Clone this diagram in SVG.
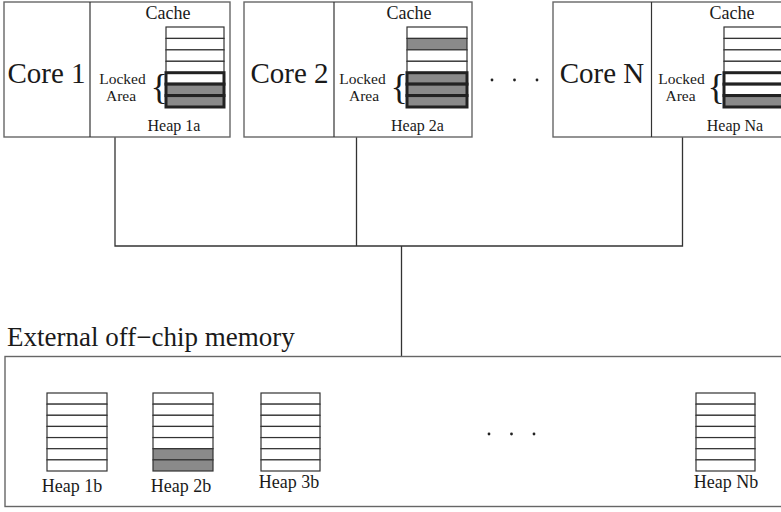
<svg xmlns="http://www.w3.org/2000/svg" width="781" height="512" viewBox="0 0 781 512">
<style>
  text { font-family: "Liberation Serif", "Times New Roman", serif; fill: #1a1a1a; }
  .box { fill: #fff; stroke: #666; stroke-width: 1.4; }
  .div { stroke: #333; stroke-width: 1.2; }
  .row { fill: #fff; stroke: #333; stroke-width: 1.2; }
  .rowg { fill: #8a8a8a; stroke: #333; stroke-width: 1.2; }
  .lk { fill: #fff; stroke: #222; stroke-width: 3; }
  .lkg { fill: #8a8a8a; stroke: #222; stroke-width: 3; }
  .conn { fill: none; stroke: #333; stroke-width: 1.3; }
  .core { font-size: 29px; text-anchor: middle; }
  .cache { font-size: 18px; text-anchor: middle; }
  .lbl { font-size: 15.5px; text-anchor: middle; }
  .heapa { font-size: 16px; text-anchor: middle; }
  .heapb { font-size: 18px; text-anchor: middle; }
  .brace { font-size: 36px; }
  .dot { fill: #222; }
</style>

<g id="connectors">
  <polyline class="conn" points="115,137 115,246 682.5,246 682.5,137"/>
  <line class="conn" x1="356.5" y1="137" x2="356.5" y2="246"/>
  <line class="conn" x1="401.5" y1="246" x2="401.5" y2="356.5"/>
</g>

<g id="core1">
  <rect class="box" x="4" y="2" width="226" height="135"/>
  <line class="div" x1="90" y1="2" x2="90" y2="137"/>
  <text class="core" x="46.5" y="83">Core 1</text>
  <text class="cache" x="168" y="18.5">Cache</text>
  <rect class="row" x="166" y="27" width="58" height="11.43"/>
  <rect class="row" x="166" y="38.43" width="58" height="11.43"/>
  <rect class="row" x="166" y="49.86" width="58" height="11.43"/>
  <rect class="row" x="166" y="61.29" width="58" height="11.43"/>
  <rect class="lk" x="166" y="72.71" width="58" height="11.43"/>
  <rect class="lkg" x="166" y="84.14" width="58" height="11.43"/>
  <rect class="lkg" x="166" y="95.57" width="58" height="11.43"/>
  <text class="lbl" x="122.5" y="84">Locked</text>
  <text class="lbl" x="121" y="101">Area</text>
  <text class="brace" x="150.4" y="98.5">{</text>
  <text class="heapa" x="174" y="130.5">Heap 1a</text>
</g>

<g id="core2">
  <rect class="box" x="244" y="2" width="228" height="135"/>
  <line class="div" x1="334" y1="2" x2="334" y2="137"/>
  <text class="core" x="289.5" y="83">Core 2</text>
  <text class="cache" x="409" y="18.5">Cache</text>
  <rect class="row" x="407" y="27" width="60" height="11.43"/>
  <rect class="rowg" x="407" y="38.43" width="60" height="11.43"/>
  <rect class="row" x="407" y="49.86" width="60" height="11.43"/>
  <rect class="row" x="407" y="61.29" width="60" height="11.43"/>
  <rect class="lkg" x="407" y="72.71" width="60" height="11.43"/>
  <rect class="lkg" x="407" y="84.14" width="60" height="11.43"/>
  <rect class="lkg" x="407" y="95.57" width="60" height="11.43"/>
  <text class="lbl" x="362.5" y="84">Locked</text>
  <text class="lbl" x="364" y="101">Area</text>
  <text class="brace" x="390.4" y="98.5">{</text>
  <text class="heapa" x="417.5" y="130.5">Heap 2a</text>
</g>

<g id="top-dots">
  <circle class="dot" cx="492" cy="80" r="1.4"/>
  <circle class="dot" cx="514.5" cy="80" r="1.4"/>
  <circle class="dot" cx="537" cy="80" r="1.4"/>
</g>

<g id="coreN">
  <rect class="box" x="553" y="2" width="240" height="135"/>
  <line class="div" x1="651.5" y1="2" x2="651.5" y2="137"/>
  <text class="core" x="602" y="83">Core N</text>
  <text class="cache" x="732" y="18.5">Cache</text>
  <rect class="row" x="724" y="27" width="60" height="11.43"/>
  <rect class="row" x="724" y="38.43" width="60" height="11.43"/>
  <rect class="row" x="724" y="49.86" width="60" height="11.43"/>
  <rect class="row" x="724" y="61.29" width="60" height="11.43"/>
  <rect class="lk" x="724" y="72.71" width="60" height="11.43"/>
  <rect class="lk" x="724" y="84.14" width="60" height="11.43"/>
  <rect class="lkg" x="724" y="95.57" width="60" height="11.43"/>
  <text class="lbl" x="681.5" y="84">Locked</text>
  <text class="lbl" x="680.5" y="101">Area</text>
  <text class="brace" x="707.5" y="98.5">{</text>
  <text class="heapa" x="735" y="130.5">Heap Na</text>
</g>

<g id="external-memory">
  <text x="7" y="345.5" style="font-size:27px">External off−chip memory</text>
  <rect class="box" x="5" y="356.5" width="790" height="150"/>
</g>

<g id="heap1b">
  <rect class="row" x="47" y="393" width="60" height="11.14"/>
  <rect class="row" x="47" y="404.14" width="60" height="11.14"/>
  <rect class="row" x="47" y="415.29" width="60" height="11.14"/>
  <rect class="row" x="47" y="426.43" width="60" height="11.14"/>
  <rect class="row" x="47" y="437.57" width="60" height="11.14"/>
  <rect class="row" x="47" y="448.71" width="60" height="11.14"/>
  <rect class="row" x="47" y="459.86" width="60" height="11.14"/>
  <text class="heapb" x="72" y="492">Heap 1b</text>
</g>

<g id="heap2b">
  <rect class="row" x="153" y="393" width="60" height="11.14"/>
  <rect class="row" x="153" y="404.14" width="60" height="11.14"/>
  <rect class="row" x="153" y="415.29" width="60" height="11.14"/>
  <rect class="row" x="153" y="426.43" width="60" height="11.14"/>
  <rect class="row" x="153" y="437.57" width="60" height="11.14"/>
  <rect class="rowg" x="153" y="448.71" width="60" height="11.14"/>
  <rect class="rowg" x="153" y="459.86" width="60" height="11.14"/>
  <text class="heapb" x="181" y="492">Heap 2b</text>
</g>

<g id="heap3b">
  <rect class="row" x="261" y="393" width="59" height="11.14"/>
  <rect class="row" x="261" y="404.14" width="59" height="11.14"/>
  <rect class="row" x="261" y="415.29" width="59" height="11.14"/>
  <rect class="row" x="261" y="426.43" width="59" height="11.14"/>
  <rect class="row" x="261" y="437.57" width="59" height="11.14"/>
  <rect class="row" x="261" y="448.71" width="59" height="11.14"/>
  <rect class="row" x="261" y="459.86" width="59" height="11.14"/>
  <text class="heapb" x="289" y="488">Heap 3b</text>
</g>

<g id="bottom-dots">
  <circle class="dot" cx="489" cy="434" r="1.4"/>
  <circle class="dot" cx="511.5" cy="434" r="1.4"/>
  <circle class="dot" cx="534" cy="434" r="1.4"/>
</g>

<g id="heapNb">
  <rect class="row" x="696" y="393" width="59" height="11.14"/>
  <rect class="row" x="696" y="404.14" width="59" height="11.14"/>
  <rect class="row" x="696" y="415.29" width="59" height="11.14"/>
  <rect class="row" x="696" y="426.43" width="59" height="11.14"/>
  <rect class="row" x="696" y="437.57" width="59" height="11.14"/>
  <rect class="row" x="696" y="448.71" width="59" height="11.14"/>
  <rect class="row" x="696" y="459.86" width="59" height="11.14"/>
  <text class="heapb" x="726" y="488">Heap Nb</text>
</g>
</svg>
